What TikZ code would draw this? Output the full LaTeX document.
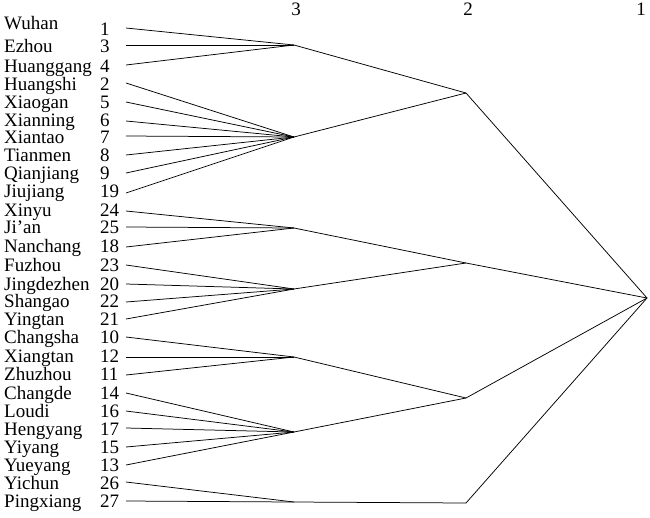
\documentclass[tikz,border=0pt]{standalone}
\usepackage{fontspec}
\setmainfont{Liberation Serif}
\begin{document}
\begin{tikzpicture}[x=1pt,y=-1pt,
  lbl/.style={anchor=base west,inner sep=0pt,font=\fontsize{19}{20}\selectfont},
  hdr/.style={anchor=base,inner sep=0pt,font=\fontsize{19}{20}\selectfont},
  link/.style={draw=black,line width=0.75pt}]
\useasboundingbox (0,0) rectangle (650,517);
% cluster junctions
\coordinate (A) at (294,45);
\coordinate (B) at (294,137);
\coordinate (C) at (294,228);
\coordinate (D) at (294,289);
\coordinate (E) at (294,357);
\coordinate (F) at (294,432);
\coordinate (G) at (294,502);
\coordinate (AB) at (466,93);
\coordinate (CD) at (466,263);
\coordinate (EF) at (466,398);
\coordinate (G2) at (466,503);
\coordinate (R) at (647,298);
% header
\node[hdr] (h3) at (296,15) {3};
\node[hdr] (h2) at (468,15) {2};
\node[hdr] (h1) at (641,15) {1};
% leaves
\foreach \nm/\num/\y/\cl/\dn/\dd in {
  Wuhan/1/28/A/1/7,
  Ezhou/3/45/A/7/7,
  Huanggang/4/65/A/7/7,
  Huangshi/2/83/B/7/7,
  Xiaogan/5/102/B/6/6,
  Xianning/6/121/B/5/5,
  Xiantao/7/136/B/7/7,
  Tianmen/8/155/B/6/6,
  Qianjiang/9/173/B/6/6,
  Jiujiang/19/193/B/4/4,
  Xinyu/24/211/C/5/5,
  Ji’an/25/227/C/6/6,
  Nanchang/18/247/C/5/5,
  Fuzhou/23/265/D/6/6,
  Jingdezhen/20/284/D/6/6,
  Shangao/22/302/D/5/5,
  Yingtan/21/319/D/6/6,
  Changsha/10/337/E/6/6,
  Xiangtan/12/357/E/5/5,
  Zhuzhou/11/375/E/5/5,
  Changde/14/393/F/6/6,
  Loudi/16/411/F/6/6,
  Hengyang/17/428/F/7/7,
  Yiyang/15/447/F/6/6,
  Yueyang/13/465/F/6/6,
  Yichun/26/482/G/7/7,
  Pingxiang/27/501/G/6/6}{
  \node[lbl] (n\num) at (4,\y+\dn) {\nm};
  \node[lbl] (k\num) at (100,\y+\dd) {\num};
  \coordinate (l\num) at (126,\y);
  \draw[link] (l\num) -- (\cl);
}
% upper levels
\draw[link] (A) -- (AB);
\draw[link] (B) -- (AB);
\draw[link] (C) -- (CD);
\draw[link] (D) -- (CD);
\draw[link] (E) -- (EF);
\draw[link] (F) -- (EF);
\draw[link] (G) -- (G2);
\draw[link] (AB) -- (R);
\draw[link] (CD) -- (R);
\draw[link] (EF) -- (R);
\draw[link] (G2) -- (R);
\end{tikzpicture}
\end{document}
